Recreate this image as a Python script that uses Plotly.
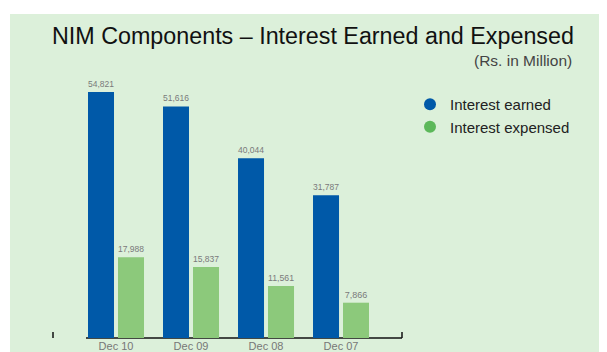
import plotly.graph_objects as go

categories = ["Dec 10", "Dec 09", "Dec 08", "Dec 07"]
interest_earned = [54821, 51616, 40044, 31787]
interest_expensed = [17988, 15837, 11561, 7866]
series_names = ["Interest earned", "Interest expensed"]

OFF = 8  # page body margin
W, H = 607 - OFF, 352 - OFF
L, R, T, B = 53 - OFF, 402 - OFF, 60 - OFF, 338 - OFF  # plot area (figure px)
pw, ph = R - L, B - T

def px_x(x):  # page px -> paper
    return (x - OFF - L) / pw

def px_y(y):
    return (B - (y - OFF)) / ph

BLUE = "#0059a8"
GREEN_BAR = "#8cc97b"
GREEN_LEG = "#5cb85a"
BG = "#dcf0da"
SANS = "Liberation Sans, Arial, Helvetica, sans-serif"

fig = go.Figure()
fig.add_trace(go.Bar(
    x=categories, y=interest_earned, name=series_names[0],
    marker=dict(color=BLUE, line=dict(width=0)),
    text=[f"{v:,}" for v in interest_earned], textposition="outside",
    textfont=dict(family=SANS, size=9, color="#7a7a7a"),
    cliponaxis=False, showlegend=False,
))
fig.add_trace(go.Bar(
    x=categories, y=interest_expensed, name=series_names[1],
    marker=dict(color=GREEN_BAR, line=dict(width=0)),
    text=[f"{v:,}" for v in interest_expensed], textposition="outside",
    textfont=dict(family=SANS, size=9, color="#7a7a7a"),
    cliponaxis=False, showlegend=False,
))
for name, col in zip(series_names, [BLUE, GREEN_LEG]):
    fig.add_trace(go.Scatter(
        x=[None], y=[None], mode="markers", name=name,
        marker=dict(symbol="circle", size=15, color=col),
        showlegend=True,
    ))

y_max = 54821 * ph / 246.0

fig.update_layout(
    width=W, height=H,
    margin=dict(l=L, r=W - R, t=T, b=H - B, pad=0, autoexpand=False),
    paper_bgcolor="white",
    plot_bgcolor="rgba(0,0,0,0)",
    barmode="group", bargap=0.2, bargroupgap=0.133,
    xaxis=dict(
        type="category", range=[-0.84, 3.813], automargin=False,
        showline=False, showgrid=False, zeroline=False,
        ticks="", ticklen=0,
        tickfont=dict(family=SANS, size=11, color="#777777"),
    ),
    yaxis=dict(
        range=[0, y_max], visible=False, showgrid=False, zeroline=False,
        automargin=False,
    ),
    legend=dict(
        x=px_x(410), y=px_y(88), xanchor="left", yanchor="top",
        xref="paper", yref="paper",
        font=dict(family=SANS, size=15, color="#222222"),
        bgcolor="rgba(0,0,0,0)", itemsizing="constant",
        tracegroupgap=0,
    ),
    shapes=[
        dict(type="rect", xref="paper", yref="paper",
             x0=px_x(10), x1=px_x(620), y0=px_y(370), y1=px_y(14),
             fillcolor=BG, line=dict(width=0), layer="below"),
        dict(type="line", xref="paper", yref="paper",
             x0=px_x(86), x1=1, y0=0, y1=0,
             line=dict(color="#111111", width=1.5), layer="below"),
        dict(type="line", xref="paper", yref="paper",
             x0=0, x1=0, y0=0, y1=px_y(332),
             line=dict(color="#111111", width=1.5)),
        dict(type="line", xref="paper", yref="paper",
             x0=1, x1=1, y0=0, y1=px_y(332),
             line=dict(color="#111111", width=1.5)),
    ],
    annotations=[
        dict(text="NIM Components – Interest Earned and Expensed",
             xref="paper", yref="paper", x=px_x(576), y=px_y(36),
             xanchor="right", yanchor="middle", showarrow=False,
             font=dict(family=SANS, size=23.3, color="#111111")),
        dict(text="(Rs. in Million)",
             xref="paper", yref="paper", x=px_x(574), y=px_y(61),
             xanchor="right", yanchor="middle", showarrow=False,
             font=dict(family=SANS, size=15.5, color="#444444")),
    ],
)

fig.write_html("out.html")
